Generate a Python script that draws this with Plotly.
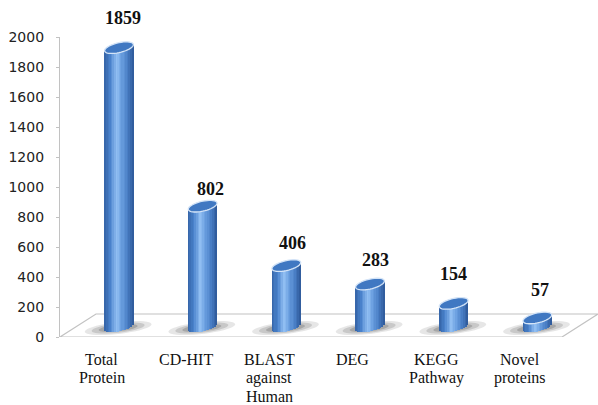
import numpy as np
import plotly.graph_objects as go

# ---- data ----
categories = ["Total<br>Protein", "CD-HIT", "BLAST<br>against<br>Human", "DEG",
              "KEGG<br>Pathway", "Novel<br>proteins"]
protein_counts = [1859, 802, 406, 283, 154, 57]
y_ticks = [0, 200, 400, 600, 800, 1000, 1200, 1400, 1600, 1800, 2000]

# ---- 3D look parameters (axis units) ----
PX_Y = 2000 / 300.0            # data units per pixel on y
DEPTH_X = 0.43                 # floor depth, x shift
DEPTH_Y = 23 * PX_Y            # floor depth, y shift
SHIFT_X = 0.205                # cylinders stand mid-depth
SHIFT_Y = 10.5 * PX_Y
HALF_W = 0.172                 # cylinder radius (x units)
ELL_B = 5.0 * PX_Y             # ellipse half height
SHEAR = 3.0 * PX_Y             # tilt of the ellipses
N_STRIPS = 18

idx = np.arange(len(categories), dtype=float)
vals = np.array(protein_counts, dtype=float)
cx = idx + SHIFT_X

def hex2rgb(h):
    h = h.lstrip("#")
    return np.array([int(h[i:i + 2], 16) for i in (0, 2, 4)], dtype=float)

stops_u = [-1.0, -0.6, -0.15, 0.2, 0.6, 1.0]
stops_c = [hex2rgb(c) for c in ["#3463a6", "#4a82cc", "#93c0f3", "#6a9fe0", "#4a7fc6", "#2d5897"]]

def shade(u):
    for i in range(len(stops_u) - 1):
        if stops_u[i] <= u <= stops_u[i + 1]:
            t = (u - stops_u[i]) / (stops_u[i + 1] - stops_u[i])
            c = stops_c[i] * (1 - t) + stops_c[i + 1] * t
            return "rgb(%d,%d,%d)" % tuple(np.round(c))
    return "rgb(%d,%d,%d)" % tuple(stops_c[-1])

fig = go.Figure()

# cylinder bodies as thin vertical strips
strip_w = 2 * HALF_W / N_STRIPS
for k in range(N_STRIPS):
    u = -1 + (2 * k + 1) / N_STRIPS
    base = SHIFT_Y + SHEAR * u - ELL_B * np.sqrt(max(0.0, 1 - u * u))
    top = SHIFT_Y + vals + SHEAR * u
    fig.add_trace(go.Bar(
        x=cx + u * HALF_W, y=top - base, base=base,
        width=strip_w * 1.25,
        marker=dict(color=shade(u), line=dict(width=0)),
        showlegend=False, hoverinfo="skip",
    ))

shapes = []
# floor
fx0, fx1 = -0.5, 5.5
shapes.append(dict(
    type="path", xref="x", yref="y", layer="below",
    path=f"M {fx0},0 L {fx1},0 L {fx1 + DEPTH_X},{DEPTH_Y} L {fx0 + DEPTH_X},{DEPTH_Y} Z",
    fillcolor="white", line=dict(color="#c2c2c2", width=1.2),
))
# tick marks on the floor front edge
for b in np.arange(0.5, 5.0, 1.0):
    shapes.append(dict(type="line", xref="x", yref="y", x0=b, x1=b,
                       y0=0, y1=-4 * PX_Y, line=dict(color="#c2c2c2", width=1)))

# soft shadows on the floor, skewed along the depth direction
t = np.linspace(0, 2 * np.pi, 40, endpoint=False)
skew = DEPTH_X / DEPTH_Y
for c in cx:
    for sx, sy, col in [(0.34, 7.0, "rgba(205,205,205,0.5)"),
                        (0.27, 5.5, "rgba(170,170,170,0.5)"),
                        (0.20, 4.0, "rgba(140,140,140,0.55)")]:
        dyv = sy * PX_Y * np.sin(t)
        ex = c - 0.01 + sx * np.cos(t) + skew * dyv * 1.6
        ey = SHIFT_Y - 1.5 * PX_Y + dyv
        p = "M " + " L ".join(f"{a:.4f},{b:.2f}" for a, b in zip(ex, ey)) + " Z"
        shapes.append(dict(type="path", xref="x", yref="y", layer="below", path=p,
                           fillcolor=col, line=dict(width=0)))

# elliptic tops
for c, v in zip(cx, vals):
    ex = c + HALF_W * np.cos(t)
    ey = SHIFT_Y + v + ELL_B * np.sin(t) + SHEAR * np.cos(t)
    p = "M " + " L ".join(f"{a:.4f},{b:.2f}" for a, b in zip(ex, ey)) + " Z"
    shapes.append(dict(type="path", xref="x", yref="y", layer="above", path=p,
                       fillcolor="#4078c2", line=dict(color="#d4e4f7", width=1.3)))

annotations = []
# value labels
label_dx = [0.05, 0.09, 0.07, 0.07, 0.0, 0.03]
label_dy = [19, 6, 12, 13, 18, 17]
for i, (c, v) in enumerate(zip(cx, vals)):
    annotations.append(dict(
        x=c + label_dx[i], y=SHIFT_Y + v + ELL_B, xref="x", yref="y",
        text=str(int(v)), showarrow=False, yanchor="bottom", yshift=label_dy[i] - 6,
        font=dict(family="Liberation Serif", size=18, color="#111", weight="bold"),
    ))

# category labels, one annotation per line for tight line spacing
for i, name in enumerate(categories):
    for j, line in enumerate(name.split("<br>")):
        annotations.append(dict(
            x=idx[i], y=0, xref="x", yref="paper", text=line, showarrow=False,
            xanchor="center", yanchor="middle", yshift=-22 - 18.6 * j,
            borderpad=0,
            font=dict(family="Liberation Serif", size=16, color="#111"),
        ))

fig.update_layout(
    width=598, height=405,
    margin=dict(l=60, r=0, t=37, b=68),
    paper_bgcolor="white", plot_bgcolor="white",
    barmode="overlay", bargap=0,
    shapes=shapes, annotations=annotations,
    xaxis=dict(
        range=[-0.5, 5.93], showticklabels=False,
        showline=False, showgrid=False, zeroline=False, ticks="",
    ),
    yaxis=dict(
        range=[0, 2000], tickvals=y_ticks, showgrid=False, zeroline=False,
        showline=True, linecolor="#c2c2c2", linewidth=1.2,
        ticks="outside", ticklen=3, tickcolor="#c2c2c2",
        tickfont=dict(family="DejaVu Sans", size=14, color="#222"),
        ticklabelstandoff=9,
    ),
)

fig.write_html("out.html")
